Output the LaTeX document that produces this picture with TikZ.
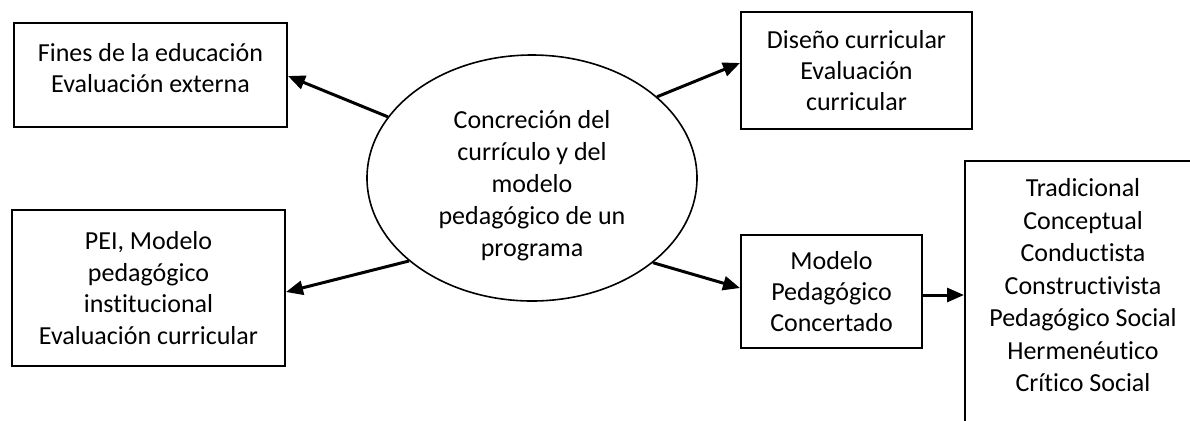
\documentclass[tikz,border=0pt]{standalone}
\usepackage{fontspec}
\setmainfont{Carlito}[Ligatures=NoCommon]
\usetikzlibrary{shapes.geometric,arrows.meta}

\begin{document}
\begin{tikzpicture}[x=0.5pt,y=-0.5pt,
  every node/.style={font=\fontsize{13}{15.7}\selectfont,align=center,inner sep=0pt},
  box/.style={draw,line width=1pt,rectangle},
  arr/.style={line width=1.5pt,-{Triangle[length=8.5pt,width=7pt]}}]

\useasboundingbox (0,0) rectangle (1190,420);
\clip (0,0) rectangle (1190,420);

\node [draw,ellipse,line width=0.8pt,minimum width=165pt,minimum height=123pt] (concr) at (532,178) {};
\node (concrtxt) at (532,186) {Concreción del\\[0.3pt]currículo y del\\[0.3pt]modelo\\[0.3pt]pedagógico de un\\[0.3pt]programa};

\node [box,minimum width=136.5pt,minimum height=52pt] (fines) at (150.5,75) {};
\node (finestxt) at (150.5,68) {Fines de la educación\\Evaluación externa};

\node [box,minimum width=115.5pt,minimum height=58.5pt] (diseno) at (856.5,70.5) {Diseño curricular\\Evaluación\\curricular};

\node [box,minimum width=136.5pt,minimum height=78pt] (pei) at (148.5,288) {PEI, Modelo\\pedagógico\\institucional\\Evaluación curricular};

\node [box,minimum width=90.5pt,minimum height=56.5pt] (modelo) at (831.5,291.5) {Modelo\\Pedagógico\\Concertado};

% caja de los modelos, cortada por el borde
\node [box,minimum width=118pt,minimum height=139.5pt] (tipos) at (1083,300.5) {};
\node [font=\fontsize{13}{16.25}\selectfont] (tipostxt) at (1083,285.5)
  {Tradicional\\Conceptual\\Conductista\\Constructivista\\Pedagógico Social\\Hermenéutico\\Crítico Social};

\draw [arr] (concr.157) -- ([yshift=-0.5pt]fines.east);
\draw [arr] (concr.33) -- ([yshift=3.75pt]diseno.west);
\draw [arr] (concr.214) -- ([yshift=-2pt]pei.east);
\draw [arr] (concr.325) -- ([yshift=1.75pt]modelo.west);
\draw [arr] ([yshift=-1.75pt]modelo.east) -- ([yshift=-1.75pt]modelo.east -| tipos.west);

\end{tikzpicture}
\end{document}
